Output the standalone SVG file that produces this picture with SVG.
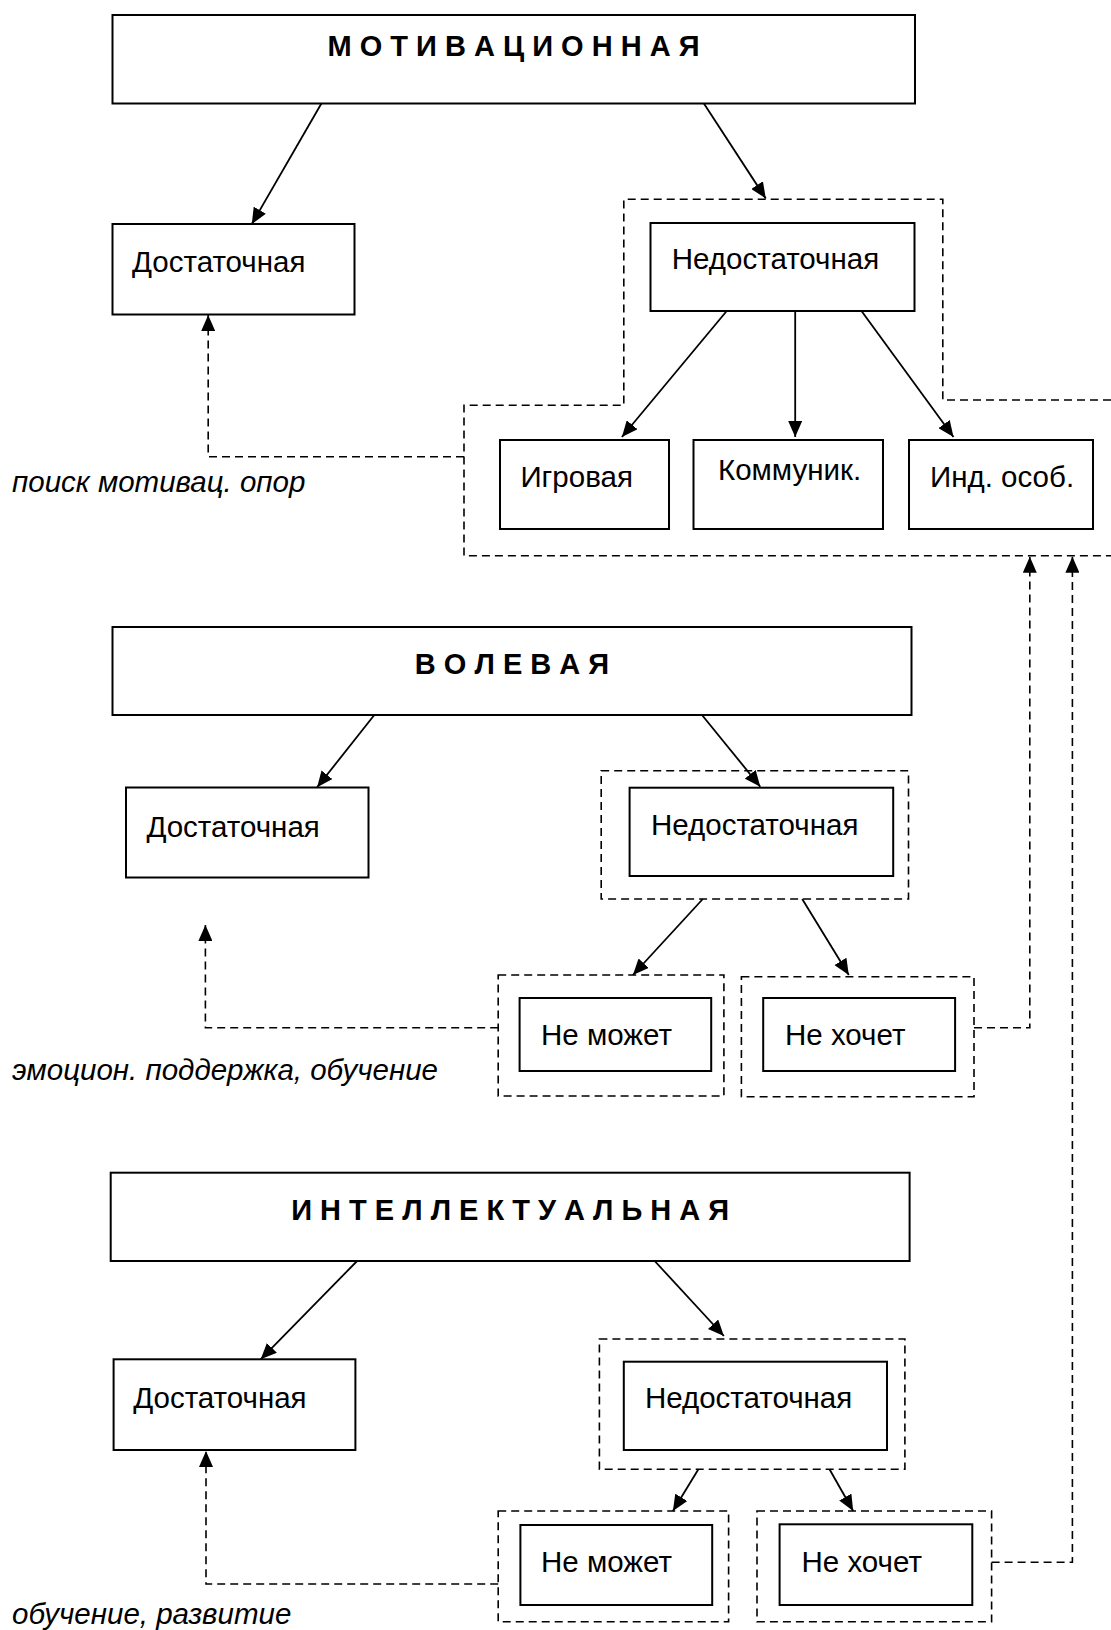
<svg xmlns="http://www.w3.org/2000/svg" width="1111" height="1630" viewBox="0 0 1111 1630">
<style>
.box{fill:#fff;stroke:#000;stroke-width:2}
.dbox{fill:none;stroke:#000;stroke-width:1.6;stroke-dasharray:8 5}
.t{font-family:"Liberation Sans",Arial,sans-serif;font-size:29.5px;fill:#000}
.h{font-family:"Liberation Sans",Arial,sans-serif;font-size:29px;font-weight:bold;fill:#000}
.i{font-family:"Liberation Sans",Arial,sans-serif;font-size:29.5px;font-style:italic;fill:#000}
.a{fill:none;stroke:#000;stroke-width:1.8}
.d{fill:none;stroke:#000;stroke-width:1.6;stroke-dasharray:8 5}
</style>
<defs>
<marker id="ah" markerUnits="userSpaceOnUse" markerWidth="16" markerHeight="14" refX="16" refY="7" orient="auto">
<path d="M0,0 L16,7 L0,14 Z" fill="#000"/>
</marker>
</defs>
<rect width="1111" height="1630" fill="#fff"/>

<!-- Section 1 -->
<g id="motiv">
<rect class="box" x="112.5" y="15" width="802.5" height="88.5"/>
<text class="h" x="513.5" y="55.5" text-anchor="middle">М О Т И В А Ц И О Н Н А Я</text>
</g>
<g id="dost1">
<rect class="box" x="112.5" y="224" width="242" height="90.5"/>
<text class="t" x="132" y="271.5">Достаточная</text>
</g>
<g id="nedost1-group">
<path class="dbox" d="M1111,400 H942.8 V199.3 H623.8 V405.3 H464 V555.7 H1111"/>
</g>
<g id="nedost1">
<rect class="box" x="650.5" y="223" width="264" height="88"/>
<text class="t" x="671.8" y="269.3">Недостаточная</text>
</g>
<g id="igr">
<rect class="box" x="500" y="440" width="169" height="89"/>
<text class="t" x="520.4" y="486.7">Игровая</text>
</g>
<g id="komm">
<rect class="box" x="693.5" y="440" width="189.5" height="89"/>
<text class="t" x="718" y="480">Коммуник.</text>
</g>
<g id="ind">
<rect class="box" x="909" y="440" width="184" height="89"/>
<text class="t" x="930" y="487.3">Инд. особ.</text>
</g>
<g id="label1"><text class="i" x="12" y="492">поиск мотивац. опор</text></g>

<!-- Section 2 -->
<g id="volev">
<rect class="box" x="112.5" y="627" width="799" height="88"/>
<text class="h" x="512" y="673.8" text-anchor="middle">В О Л Е В А Я</text>
</g>
<g id="dost2">
<rect class="box" x="126" y="787.5" width="242.5" height="90"/>
<text class="t" x="146.4" y="837.3">Достаточная</text>
</g>
<g id="nedost2">
<rect class="dbox" x="601.2" y="770.7" width="307.3" height="128.3"/>
<rect class="box" x="629.6" y="787.7" width="263.6" height="88.3"/>
<text class="t" x="651" y="835">Недостаточная</text>
</g>
<g id="nemozh2">
<rect class="dbox" x="498.2" y="975" width="225.7" height="121"/>
<rect class="box" x="519.6" y="998" width="191.6" height="73"/>
<text class="t" x="541" y="1045">Не может</text>
</g>
<g id="nehoch2">
<rect class="dbox" x="741.4" y="976.7" width="232.6" height="120"/>
<rect class="box" x="763.2" y="998" width="191.9" height="73"/>
<text class="t" x="785" y="1045">Не хочет</text>
</g>
<g id="label2"><text class="i" x="12" y="1080">эмоцион. поддержка, обучение</text></g>

<!-- Section 3 -->
<g id="intel">
<rect class="box" x="110.7" y="1172.7" width="798.9" height="88.3"/>
<text class="h" x="510.2" y="1219.8" text-anchor="middle">И Н Т Е Л Л Е К Т У А Л Ь Н А Я</text>
</g>
<g id="dost3">
<rect class="box" x="113.6" y="1359.3" width="241.8" height="90.7"/>
<text class="t" x="133.2" y="1408.3">Достаточная</text>
</g>
<g id="nedost3">
<rect class="dbox" x="599.4" y="1339" width="305.5" height="130.3"/>
<rect class="box" x="623.8" y="1361.7" width="263.2" height="88.3"/>
<text class="t" x="644.9" y="1408.3">Недостаточная</text>
</g>
<g id="nemozh3">
<rect class="dbox" x="498.2" y="1511" width="230.4" height="110.7"/>
<rect class="box" x="520.4" y="1525" width="191.8" height="80"/>
<text class="t" x="541" y="1571.7">Не может</text>
</g>
<g id="nehoch3">
<rect class="dbox" x="757" y="1511" width="234.6" height="110.7"/>
<rect class="box" x="779.6" y="1524.3" width="192.7" height="80.7"/>
<text class="t" x="801.5" y="1571.7">Не хочет</text>
</g>
<g id="label3"><text class="i" x="12" y="1623.5">обучение, развитие</text></g>

<g id="connectors">
<line class="a" x1="321.4" y1="103.5" x2="251.8" y2="224" marker-end="url(#ah)"/>
<line class="a" x1="703.9" y1="103.5" x2="765.8" y2="198.5" marker-end="url(#ah)"/>
<line class="a" x1="726.7" y1="311" x2="621.9" y2="437" marker-end="url(#ah)"/>
<line class="a" x1="795.2" y1="311" x2="795.2" y2="437" marker-end="url(#ah)"/>
<line class="a" x1="861.5" y1="311" x2="953.5" y2="437" marker-end="url(#ah)"/>
<path class="d" d="M464,456.7 H208.2 V315" marker-end="url(#ah)"/>

<line class="a" x1="374.3" y1="715" x2="317.1" y2="787.3" marker-end="url(#ah)"/>
<line class="a" x1="702" y1="715" x2="760.3" y2="786.7" marker-end="url(#ah)"/>
<line class="a" x1="702.8" y1="899" x2="632.9" y2="975" marker-end="url(#ah)"/>
<line class="a" x1="802.2" y1="899" x2="848.8" y2="975" marker-end="url(#ah)"/>
<path class="d" d="M498.2,1027.7 H205.4 V925" marker-end="url(#ah)"/>
<path class="d" d="M974,1027.7 H1029.8 V556.7" marker-end="url(#ah)"/>

<line class="a" x1="357.1" y1="1261" x2="260.7" y2="1359.3" marker-end="url(#ah)"/>
<line class="a" x1="654.7" y1="1261" x2="723.9" y2="1336" marker-end="url(#ah)"/>
<line class="a" x1="698.4" y1="1469.3" x2="672.9" y2="1511" marker-end="url(#ah)"/>
<line class="a" x1="829.5" y1="1469.3" x2="853.2" y2="1511" marker-end="url(#ah)"/>
<path class="d" d="M498.2,1584 H206 V1451" marker-end="url(#ah)"/>
<path class="d" d="M991.6,1562.3 H1072.4 V556.7" marker-end="url(#ah)"/>
</g>
</svg>
